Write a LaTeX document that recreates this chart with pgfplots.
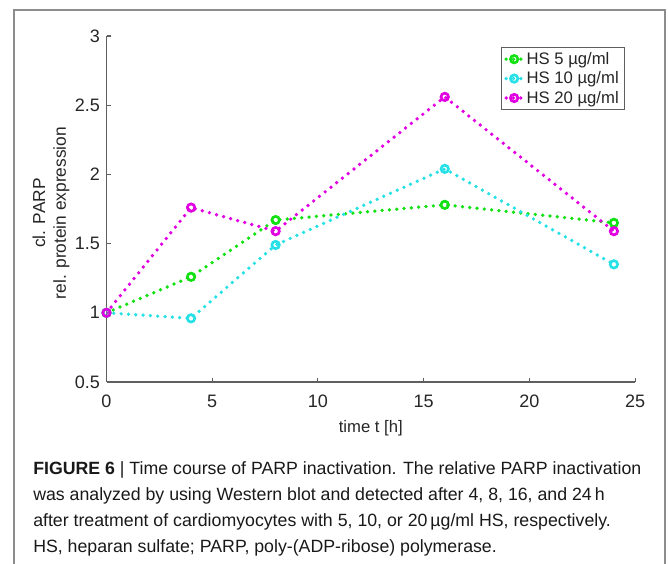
\documentclass[border=0pt]{standalone}
\usepackage{fontspec}
\setmainfont{Liberation Sans}
\usepackage{pgfplots}
\pgfplotsset{compat=1.18}
\definecolor{hsgreen}{RGB}{20,225,20}
\definecolor{hscyan}{RGB}{40,225,230}
\definecolor{hsmag}{RGB}{225,0,225}
\definecolor{axgray}{RGB}{95,95,95}
\definecolor{framegray}{RGB}{140,140,140}

\begin{document}
\begin{tikzpicture}
\useasboundingbox (0,0) rectangle (501pt,423pt);
\begin{axis}[
  at={(79.875pt,136.5pt)}, anchor=south west,
  scale only axis, width=396.4pt, height=259.5pt,
  xmin=0, xmax=25, ymin=0.5, ymax=3,
  xtick={0,5,...,25}, ytick={0.5,1,1.5,2,2.5,3},
  axis x line*=bottom, axis y line*=left,
  axis line style={axgray, line width=0.8pt, -},
  tick style={axgray, line width=0.8pt},
  tick align=inside, major tick length=3pt,
  /pgf/number format/assume math mode=true,
  tick label style={font=\fontsize{13.5}{16}\selectfont, text=black!85},
  xticklabel style={yshift=-6.5pt},
  yticklabel style={xshift=-1.4pt},
  xlabel={time t [h]},
  xlabel style={at={(axis description cs:0.5,-0.147)}, anchor=base,
    font=\fontsize{12.5}{15}\selectfont, text=black!85},
  legend cell align=left,
  legend style={at={(rel axis cs:0.98,0.968)}, anchor=north east,
    draw=axgray, line width=0.6pt, font=\fontsize{12.5}{15}\selectfont,
    inner xsep=2pt, inner ysep=1.5pt, row sep=0pt, text=black!85},
  legend image code/.code={
    \draw[#1, mark repeat=2, mark phase=2] plot coordinates {(0pt,0pt) (6pt,0pt) (12pt,0pt)};
  },
  every axis plot/.append style={line width=2.8pt, line cap=round,
    dash pattern=on 0pt off 5.5pt,
    mark=o, mark size=2.8pt, mark options={solid, fill=white, line width=2pt}},
]
\addplot[hsgreen] coordinates {(0,1) (4,1.26) (8,1.67) (16,1.78) (24,1.65)};
\addlegendentry{HS 5 µg/ml}
\addplot[hscyan] coordinates {(0,1) (4,0.96) (8,1.49) (16,2.04) (24,1.35)};
\addlegendentry{HS 10 µg/ml}
\addplot[hsmag] coordinates {(0,1) (4,1.76) (8,1.59) (16,2.56) (24,1.59)};
\addlegendentry{HS 20 µg/ml}
\end{axis}
\begin{scope}[x=0.75pt, y=-0.75pt, yshift=423pt]
  \draw[framegray, line width=1.1pt] (14,575) -- (14,10) -- (665,10) -- (665,575);
  \node[rotate=90, align=center, font=\fontsize{13}{15.5}\selectfont, text=black!85]
    at (51,213) {cl. PARP\\rel. protein expression};
  \begin{scope}[every node/.style={anchor=base west, inner sep=0pt,
      font=\fontsize{13.3}{16}\selectfont, text=black!90}]
    \node at (33,475) {\textbf{FIGURE 6} | Time course of PARP inactivation. The relative PARP inactivation};
    \node at (33,501) {was analyzed by using Western blot and detected after 4, 8, 16, and 24\,h};
    \node at (33,527) {after treatment of cardiomyocytes with 5, 10, or 20\,µg/ml HS, respectively.};
    \node at (33,553) {HS, heparan sulfate; PARP, poly-(ADP-ribose) polymerase.};
  \end{scope}
\end{scope}
\end{tikzpicture}
\end{document}
